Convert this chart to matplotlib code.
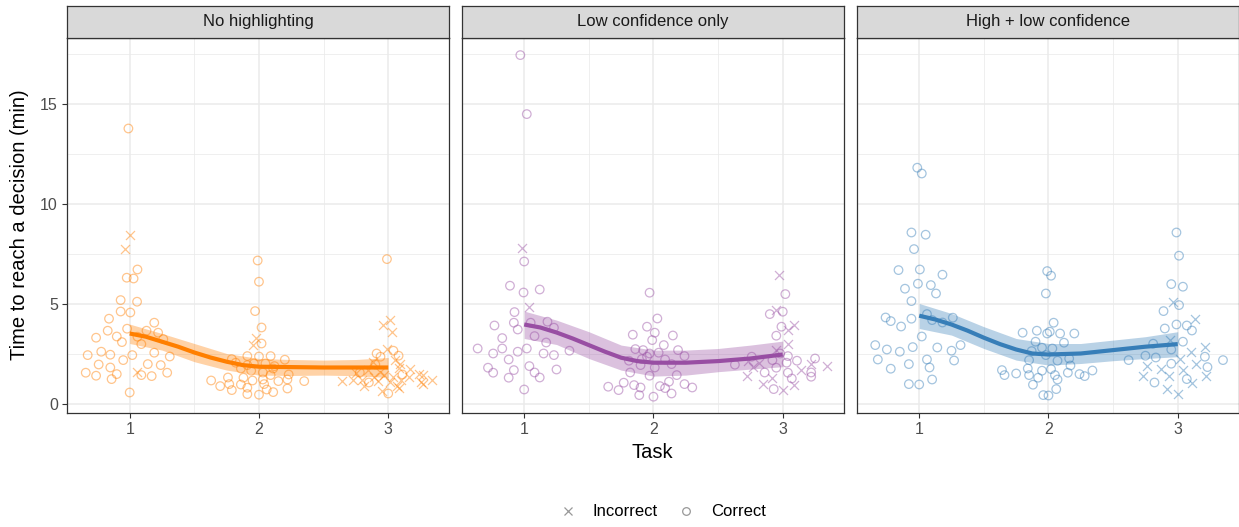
import matplotlib
matplotlib.use("Agg")
import matplotlib.pyplot as plt
from matplotlib.lines import Line2D
import numpy as np

plt.rcParams['font.family'] = ['Liberation Sans', 'DejaVu Sans']

conditions = ["No highlighting", "Low confidence only", "High + low confidence"]
colors = ["#FF7F00", "#984EA3", "#377EB8"]
tasks = [1, 2, 3]

# jittered observations: (task position, minutes)
nh_correct = [
    (0.99, 13.78), (1.06, 6.73), (0.977, 6.32), (1.03, 6.28), (0.93, 5.2), (1.057, 5.12),
    (0.93, 4.63), (1.005, 4.58), (0.84, 4.27), (1.19, 4.07), (0.83, 3.67), (0.98, 3.77),
    (1.13, 3.67), (1.22, 3.57), (0.74, 3.32), (0.9, 3.38), (1.06, 3.37), (0.94, 3.1),
    (1.26, 3.25), (1.09, 3.0), (0.78, 2.62), (0.675, 2.45), (0.85, 2.47), (1.02, 2.45),
    (1.19, 2.57), (1.31, 2.38), (0.95, 2.2), (0.76, 1.98), (1.14, 2.0), (1.24, 1.95),
    (0.85, 1.83), (0.66, 1.57), (0.74, 1.42), (0.9, 1.5), (1.09, 1.45), (1.17, 1.4),
    (1.29, 1.57), (0.86, 1.25), (1.0, 0.58),
    (1.99, 7.18), (2.0, 6.12), (1.97, 4.65), (2.02, 3.83), (2.02, 3.03), (1.79, 2.25),
    (1.91, 2.4), (2.0, 2.38), (2.09, 2.4), (2.2, 2.22), (1.82, 2.07), (1.96, 2.03),
    (2.05, 2.03), (2.12, 1.9), (1.86, 1.78), (1.94, 1.67), (2.03, 1.58), (2.09, 1.45),
    (2.23, 1.48), (1.76, 1.33), (1.88, 1.32), (1.63, 1.18), (1.77, 1.0), (1.95, 1.18),
    (2.03, 1.23), (2.15, 1.15), (2.35, 1.15), (1.7, 0.9), (1.86, 0.98), (2.04, 1.0),
    (2.22, 1.23), (1.79, 0.7), (1.91, 0.82), (2.06, 0.73), (2.22, 0.78), (1.91, 0.5),
    (2.0, 0.47), (2.11, 0.6), (1.91, 1.95), (2.11, 1.78),
    (2.99, 7.25), (3.04, 2.67), (2.91, 2.53), (2.94, 2.37), (3.08, 2.42), (2.9, 1.98),
    (2.78, 1.58), (3.11, 1.48), (2.85, 1.08), (3.0, 0.53),
]
nh_incorrect = [
    (1.005, 8.48), (0.964, 7.78), (1.06, 1.63),
    (1.98, 3.32), (1.95, 2.98),
    (3.01, 4.2), (2.96, 3.98), (3.03, 3.62), (2.99, 2.75), (3.05, 2.2), (3.09, 2.03),
    (2.88, 2.12), (3.08, 1.82), (3.17, 1.78), (2.75, 1.57), (2.84, 1.7), (2.94, 1.62),
    (3.24, 1.53), (2.89, 1.37), (2.97, 1.45), (3.04, 1.37), (3.16, 1.37), (3.27, 1.45),
    (2.64, 1.15), (2.73, 1.23), (2.8, 1.2), (2.92, 1.17), (3.01, 1.12), (3.1, 1.2),
    (3.25, 1.12), (3.34, 1.23), (2.81, 0.92), (3.07, 0.92), (3.27, 1.03), (2.95, 0.65),
    (3.08, 0.82),
]

lc_correct = [
    (0.97, 17.45), (1.02, 14.5), (1.0, 7.13), (0.89, 5.92), (0.995, 5.58), (1.12, 5.73),
    (0.925, 4.6), (0.92, 4.07), (1.05, 4.07), (1.18, 4.12), (0.77, 3.93), (0.95, 3.73),
    (1.23, 3.82), (1.08, 3.4), (0.83, 3.3), (1.17, 3.08), (0.64, 2.78), (0.83, 2.78),
    (1.02, 2.78), (1.35, 2.67), (0.76, 2.53), (0.95, 2.62), (1.15, 2.53), (1.23, 2.45),
    (0.88, 2.23), (0.72, 1.82), (1.04, 1.9), (0.76, 1.57), (0.92, 1.7), (1.08, 1.58),
    (1.25, 1.73), (0.88, 1.32), (1.12, 1.33), (1.0, 0.73),
    (1.97, 5.57), (2.03, 4.28), (1.95, 3.87), (2.01, 3.57), (1.84, 3.47), (2.15, 3.43),
    (1.99, 3.2), (2.08, 2.95), (1.86, 2.75), (1.92, 2.7), (2.19, 2.7), (1.97, 2.53),
    (1.81, 2.17), (1.95, 2.37), (2.04, 2.57), (2.09, 2.23), (2.24, 2.4), (1.9, 1.95),
    (2.01, 1.83), (2.14, 2.0), (1.82, 1.58), (1.97, 1.42), (2.18, 1.45), (1.77, 1.07),
    (1.85, 0.95), (2.05, 0.9), (2.12, 1.12), (2.24, 1.0), (1.65, 0.87), (1.73, 0.7),
    (1.9, 0.83), (2.09, 0.8), (2.3, 0.83), (1.89, 0.45), (2.0, 0.37), (2.14, 0.53),
    (1.91, 2.25),
    (3.02, 5.5), (3.0, 4.62), (2.9, 4.5), (2.99, 3.87), (2.95, 3.42), (2.98, 2.53),
    (3.04, 2.4), (2.76, 2.37), (2.92, 2.2), (3.11, 2.17), (3.25, 2.28), (3.03, 2.07),
    (2.63, 1.97), (2.95, 1.82), (2.86, 1.58), (3.22, 1.58), (3.04, 1.57), (3.07, 1.28),
    (3.22, 1.37), (2.93, 0.75),
]
lc_incorrect = [
    (0.98, 7.82), (1.04, 4.87),
    (2.97, 6.45), (2.95, 4.7), (3.09, 3.98), (3.04, 3.7), (3.04, 3.03), (2.95, 2.73),
    (2.73, 2.15), (2.82, 2.07), (3.22, 2.03), (2.77, 1.87), (3.14, 1.7), (3.34, 1.9),
    (2.72, 1.4), (2.92, 1.33), (2.85, 1.0), (3.09, 0.95), (3.0, 0.73),
]

hl_correct = [
    (0.985, 11.82), (1.02, 11.53), (0.94, 8.58), (1.05, 8.47), (0.96, 7.75), (0.84, 6.7),
    (1.005, 6.73), (1.18, 6.47), (0.99, 6.02), (1.09, 5.95), (0.89, 5.77), (1.13, 5.53),
    (0.94, 5.15), (1.06, 4.5), (0.74, 4.33), (0.78, 4.15), (0.94, 4.27), (1.1, 4.2),
    (1.18, 4.08), (1.26, 4.32), (0.86, 3.88), (1.02, 3.38), (0.66, 2.95), (0.75, 2.73),
    (0.95, 2.85), (1.14, 2.83), (1.32, 2.95), (0.85, 2.62), (1.25, 2.67), (0.68, 2.23),
    (1.06, 2.23), (1.27, 2.18), (0.92, 2.0), (1.08, 1.83), (0.78, 1.77), (1.1, 1.23),
    (0.92, 1.0), (1.0, 0.98),
    (1.99, 6.65), (2.02, 6.42), (1.98, 5.53), (2.04, 4.07), (1.8, 3.57), (1.91, 3.67),
    (1.99, 3.53), (2.01, 3.62), (2.09, 3.53), (2.2, 3.53), (1.9, 3.12), (2.12, 3.07),
    (1.95, 2.82), (2.03, 2.78), (1.87, 2.65), (1.85, 2.2), (1.98, 2.45), (2.07, 2.17),
    (2.16, 2.28), (1.84, 1.78), (1.95, 1.67), (2.02, 1.75), (2.17, 1.93), (1.64, 1.7),
    (1.66, 1.45), (1.75, 1.53), (1.85, 1.45), (2.05, 1.45), (2.15, 1.57), (2.24, 1.5),
    (2.28, 1.4), (2.34, 1.68), (1.92, 1.32), (2.07, 1.23), (1.88, 0.97), (2.06, 0.75),
    (1.96, 0.45), (2.0, 0.43),
    (2.99, 8.58), (3.01, 7.42), (2.95, 6.0), (3.04, 5.87), (3.01, 4.95), (2.89, 4.65),
    (2.99, 3.98), (3.07, 3.93), (2.9, 3.78), (3.11, 3.68), (3.04, 3.12), (2.81, 3.02),
    (2.95, 2.73), (2.75, 2.42), (2.83, 2.33), (3.21, 2.37), (2.62, 2.2), (2.95, 2.02),
    (3.23, 1.85), (3.35, 2.2), (3.07, 1.25), (2.82, 1.08),
]
hl_incorrect = [
    (2.96, 5.12), (3.13, 4.25), (2.94, 3.23), (3.21, 2.87), (3.1, 2.62), (3.02, 2.28),
    (2.76, 1.93), (3.14, 2.03), (2.87, 1.77), (3.04, 1.7), (2.73, 1.42), (2.93, 1.4),
    (3.22, 1.4), (3.11, 1.08), (2.92, 0.78), (3.0, 0.53),
]

# smoothed trend, read along the task axis
fit_x = [1.0, 1.125, 1.25, 1.375, 1.5, 1.625, 1.75, 1.875, 2.0, 2.25, 2.5, 2.75, 3.0]
nh_fit = [3.53, 3.37, 3.12, 2.87, 2.58, 2.33, 2.12, 1.95, 1.87, 1.85, 1.83, 1.83, 1.83]
lc_fit = [3.98, 3.83, 3.58, 3.28, 2.95, 2.62, 2.32, 2.15, 2.07, 2.07, 2.15, 2.28, 2.48]
hl_fit = [4.42, 4.23, 3.98, 3.67, 3.32, 3.0, 2.73, 2.53, 2.48, 2.53, 2.7, 2.87, 3.0]

# confidence band around the trend
band_x = [1.0, 1.25, 1.5, 1.75, 2.0, 2.25, 2.5, 2.75, 3.0]
nh_lo = [3.03, 2.7, 2.12, 1.7, 1.45, 1.43, 1.45, 1.42, 1.33]
nh_hi = [4.0, 3.53, 3.03, 2.53, 2.28, 2.23, 2.2, 2.23, 2.33]
lc_lo = [3.28, 2.98, 2.28, 1.7, 1.4, 1.45, 1.62, 1.75, 1.87]
lc_hi = [4.65, 4.2, 3.62, 2.95, 2.7, 2.7, 2.78, 2.95, 3.15]
hl_lo = [3.78, 3.45, 2.78, 2.2, 1.95, 2.03, 2.17, 2.28, 2.37]
hl_hi = [5.03, 4.53, 3.87, 3.28, 3.03, 3.03, 3.2, 3.37, 3.62]

panels = [
    (nh_correct, nh_incorrect, nh_fit, nh_lo, nh_hi),
    (lc_correct, lc_incorrect, lc_fit, lc_lo, lc_hi),
    (hl_correct, hl_incorrect, hl_fit, hl_lo, hl_hi),
]

W, H = 1239, 527
fig = plt.figure(figsize=(W / 100, H / 100), dpi=100)

lefts = [67, 461.5, 856.5]
pw = 382
top, bottom = 37.5, 412.7
strip_top = 6

for i, (cond, col, data) in enumerate(zip(conditions, colors, panels)):
    correct, incorrect, fit, lo, hi = data
    ax = fig.add_axes([lefts[i] / W, 1 - bottom / H, pw / W, (bottom - top) / H])
    ax.set_xlim(0.515, 3.47)
    ax.set_ylim(-0.43, 18.33)

    ax.set_xticks(tasks)
    ax.set_xticks([1.5, 2.5], minor=True)
    ax.set_yticks([0, 5, 10, 15])
    ax.set_yticks([2.5, 7.5, 12.5, 17.5], minor=True)
    ax.grid(which='major', color='#EBEBEB', lw=1.1)
    ax.grid(which='minor', color='#EBEBEB', lw=0.55)
    ax.set_axisbelow(True)
    for s in ax.spines.values():
        s.set_color('#333333')
        s.set_linewidth(0.9)

    ax.tick_params(which='minor', length=0)
    ax.tick_params(which='major', length=3.5, width=0.8, color='#333333',
                   labelcolor='#4D4D4D', labelsize=11.5, pad=3)
    if i > 0:
        ax.tick_params(axis='y', length=0, labelleft=False)

    cx, cy = zip(*correct)
    wx, wy = zip(*incorrect)
    ax.scatter(cx, cy, s=38, facecolors='none', edgecolors=col, linewidths=0.9,
               alpha=0.45, marker='o', zorder=2)
    ax.scatter(wx, wy, s=42, c=col, linewidths=0.9, alpha=0.45, marker='x', zorder=2)

    ax.fill_between(band_x, lo, hi, color=col, alpha=0.35, lw=0, zorder=3)
    ax.plot(fit_x, fit, color=col, lw=3, solid_capstyle='butt',
            solid_joinstyle='round', zorder=4)

    sax = fig.add_axes([lefts[i] / W, 1 - top / H, pw / W, (top - strip_top) / H])
    sax.set_facecolor('#D9D9D9')
    sax.set_xticks([])
    sax.set_yticks([])
    for s in sax.spines.values():
        s.set_color('#333333')
        s.set_linewidth(0.9)
    sax.text(0.5, 0.5, cond, ha='center', va='center', fontsize=12,
             color='#1A1A1A', transform=sax.transAxes)

fig.text(20 / W, 1 - 225 / H, "Time to reach a decision (min)", rotation=90,
         ha='center', va='center', fontsize=14.5, color='black')
fig.text(652 / W, 1 - 452 / H, "Task", ha='center', va='center', fontsize=14.5,
         color='black')

handles = [
    Line2D([], [], marker='x', ls='none', color='#7F7F7F', markersize=6, mew=0.9, alpha=0.8),
    Line2D([], [], marker='o', ls='none', markerfacecolor='none', markeredgecolor='#7F7F7F',
           markersize=5.5, mew=0.9, alpha=0.8),
]
fig.legend(handles, ["Incorrect", "Correct"], loc='center', ncol=2, frameon=False,
           bbox_to_anchor=(662 / W, 1 - 512 / H), fontsize=12, handlelength=1.2,
           handletextpad=0.9, columnspacing=1.1)

fig.savefig("out.png", dpi=100)
